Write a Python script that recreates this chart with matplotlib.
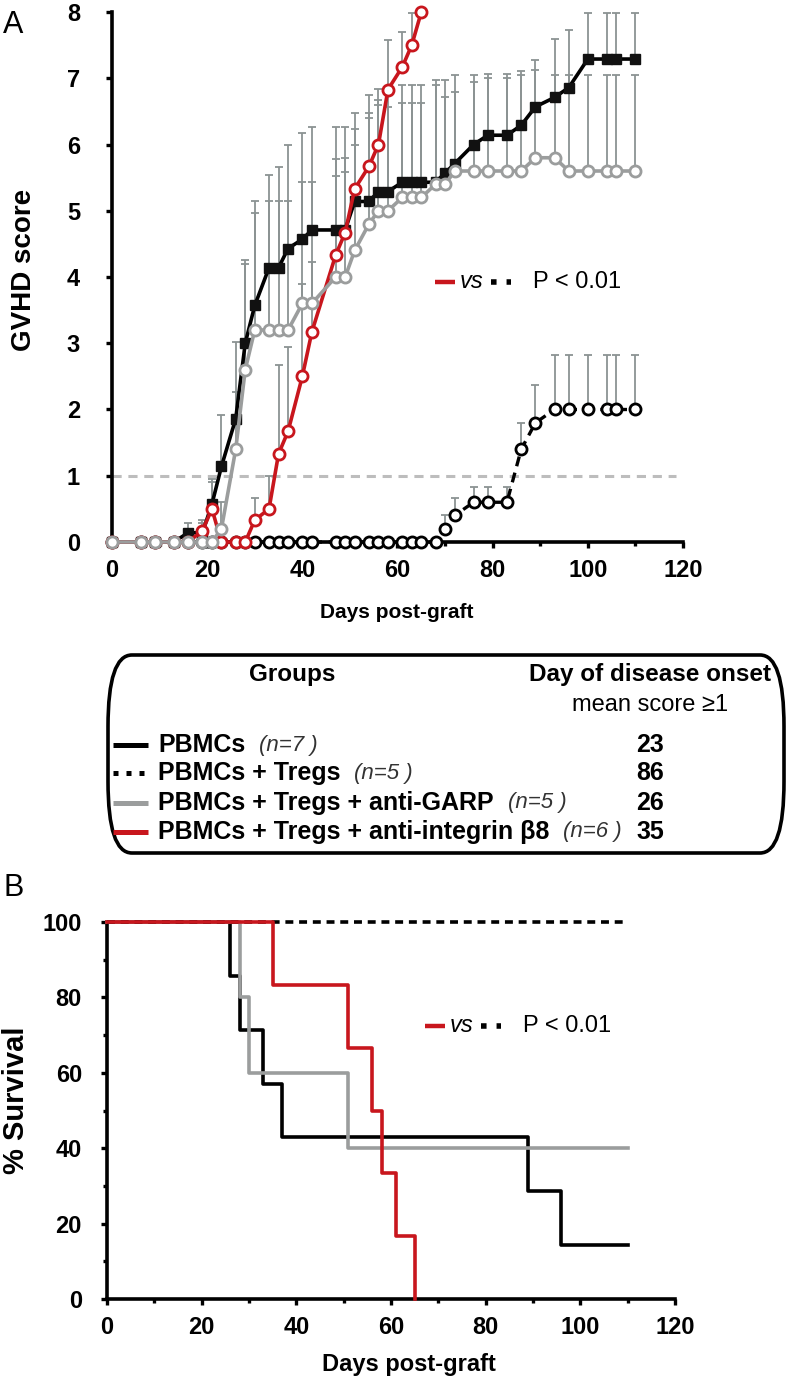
import numpy as np
import matplotlib
matplotlib.use("Agg")
import matplotlib.pyplot as plt
from matplotlib.lines import Line2D
from matplotlib.patches import FancyBboxPatch
from matplotlib.ticker import MultipleLocator

plt.rcParams['font.family'] = ['Liberation Sans', 'DejaVu Sans']

# ---- Panel A: GVHD score (mean, upper error) ----
days = [0, 6, 9, 13, 16, 19, 21, 23, 26, 28, 30, 33, 35, 37, 40, 42, 47, 49, 51, 54,
        56, 58, 61, 63, 65, 68, 70, 72, 76, 79, 83, 86, 89, 93, 96, 100, 104, 106, 110]

pbmc = [0, 0, 0, 0, 0.14, 0.14, 0.57, 1.14, 1.86, 3.0, 3.57, 4.14, 4.14, 4.43, 4.57, 4.71, 4.71, 4.71, 5.14, 5.14,
        5.29, 5.29, 5.43, 5.43, 5.43, 5.43, 5.57, 5.71, 6.0, 6.14, 6.14, 6.29, 6.57, 6.71, 6.86, 7.29, 7.29, 7.29, 7.29]
pbmc_err = [0, 0, 0, 0, 0.15, 0.15, 0.33, 0.77, 1.16, 1.26, 1.58, 1.40, 1.52, 1.56, 1.61, 1.56, 1.56, 1.56, 1.34, 1.61,
            1.55, 1.53, 1.47, 1.47, 1.47, 1.55, 1.41, 1.34, 1.05, 0.93, 0.93, 0.82, 0.71, 0.88, 0.87, 0.69, 0.69, 0.69, 0.69]

tregs = [0, 0, 0, 0, 0, 0, 0, 0, 0, 0, 0, 0, 0, 0, 0, 0, 0, 0, 0, 0,
         0, 0, 0, 0, 0, 0, 0.2, 0.4, 0.6, 0.6, 0.6, 1.4, 1.8, 2.0, 2.0, 2.0, 2.0, 2.0, 2.0]
tregs_err = [0, 0, 0, 0, 0, 0, 0, 0, 0, 0, 0, 0, 0, 0, 0, 0, 0, 0, 0, 0,
             0, 0, 0, 0, 0, 0, 0.2, 0.26, 0.23, 0.23, 0.23, 0.4, 0.57, 0.82, 0.82, 0.82, 0.82, 0.82, 0.82]

garp = [0, 0, 0, 0, 0, 0, 0, 0.2, 1.4, 2.6, 3.2, 3.2, 3.2, 3.2, 3.6, 3.6, 4.0, 4.0, 4.4, 4.8,
        5.0, 5.0, 5.2, 5.2, 5.2, 5.4, 5.4, 5.6, 5.6, 5.6, 5.6, 5.6, 5.8, 5.8, 5.6, 5.6, 5.6, 5.6, 5.6]
garp_err = [0, 0, 0, 0, 0, 0, 0, 0.4, 0.87, 1.6, 1.76, 1.95, 1.95, 1.95, 1.84, 1.84, 1.78, 1.79, 1.59, 1.67,
            1.6, 1.57, 1.42, 1.42, 1.42, 1.5, 1.32, 1.2, 1.35, 1.4, 1.4, 1.45, 1.32, 1.25, 1.45, 1.45, 1.45, 1.45, 1.45]

integ = [0, 0, 0, 0, 0, 0.17, 0.5, 0, 0, 0, 0.33, 0.5, 1.33, 1.67, 2.5, 3.17, 4.33, 4.67, 5.33, 5.67,
         6.0, 6.83, 7.17, 7.5, 8.0]
integ_err = [0, 0, 0, 0, 0, 0.16, 0.45, 0, 0, 0, 0.34, 0.5, 1.34, 1.28, 1.4, 1.06, 1.2, 0.92, 0.91, 0.73,
             0.67, 0.75, 0.53, 0.49, 0]

# ---- Panel B: survival (step times, % surviving) ----
surv_pbmc_t = [0, 26, 28, 33, 37, 89, 96, 110]
surv_pbmc = [100, 85.7, 71.4, 57.1, 42.9, 28.6, 14.3, 14.3]
surv_tregs_t = [0, 110]
surv_tregs = [100, 100]
surv_garp_t = [0, 28, 30, 51, 110]
surv_garp = [100, 80, 60, 40, 40]
surv_integ_t = [0, 35, 51, 56, 58, 61, 65]
surv_integ = [100, 83.3, 66.7, 50, 33.3, 16.7, 0]

groups = ['PBMCs', 'PBMCs + Tregs', 'PBMCs + Tregs + anti-GARP', 'PBMCs + Tregs + anti-integrin \u03b28']
group_n = ['(n=7 )', '(n=5 )', '(n=5 )', '(n=6 )']
onset = ['23', '86', '26', '35']

RED = '#c8161d'
GRAY = '#9b9d9d'
ERR = '#8b9393'

W, H = 796, 1377
fig = plt.figure(figsize=(W / 100, H / 100), dpi=100)


def fx(px):
    return px / W


def fy(py):
    return 1 - py / H


def style_axis(ax, size):
    for s in ['top', 'right']:
        ax.spines[s].set_visible(False)
    for s in ['left', 'bottom']:
        ax.spines[s].set_linewidth(2.6)
    ax.tick_params(which='major', direction='out', length=4, width=2.4, labelsize=size)
    ax.tick_params(which='minor', direction='out', length=3, width=2.4)
    for lab in ax.get_xticklabels() + ax.get_yticklabels():
        lab.set_fontweight('bold')


def upper_err(ax, x, y, e):
    x = np.asarray(x); y = np.asarray(y); e = np.asarray(e)
    m = e > 0
    ax.errorbar(x[m], y[m], yerr=[np.zeros(m.sum()), e[m]], fmt='none', ecolor=ERR,
                elinewidth=1.3, capsize=3, capthick=1.3, zorder=2, clip_on=False)


# ---------------- Panel A ----------------
axA = fig.add_axes([fx(112), fy(542), fx(683) - fx(112), fy(12) - fy(542)])
axA.set_xlim(0, 120)
axA.set_ylim(0, 8)

axA.axhline(1, xmin=0, xmax=118.6 / 120, color='#bdbdbd', lw=2.2, ls=(0, (3, 2.2)), zorder=1)

n_int = len(integ)
upper_err(axA, days, pbmc, pbmc_err)
upper_err(axA, days, tregs, tregs_err)
upper_err(axA, days, garp, garp_err)
upper_err(axA, days[:n_int], integ, integ_err)

axA.plot(days, tregs, color='black', lw=2.4, ls=(0, (3, 2)), marker='o', ms=8,
         mfc='white', mec='black', mew=2, zorder=3, clip_on=False)
axA.plot(days, pbmc, color='black', lw=2.6, marker='s', ms=7, mfc='#111111', mec='#111111',
         zorder=4, clip_on=False)
axA.plot(days[:n_int], integ, color=RED, lw=2.6, marker='o', ms=8, mfc='white', mec=RED,
         mew=2, zorder=5, clip_on=False)
axA.plot(days, garp, color=GRAY, lw=2.6, marker='o', ms=8, mfc='white', mec=GRAY,
         mew=2, zorder=6, clip_on=False)

axA.xaxis.set_major_locator(MultipleLocator(20))
axA.xaxis.set_minor_locator(MultipleLocator(10))
axA.yaxis.set_major_locator(MultipleLocator(1))
style_axis(axA, 17)
axA.tick_params(axis='y', pad=19)
axA.tick_params(axis='x', pad=8)

fig.text(fx(397), fy(612), 'Days post-graft', fontsize=15, fontweight='bold', ha='center', va='center')
fig.text(fx(24), fy(270), 'GVHD score', fontsize=20, fontweight='bold', rotation=90,
         ha='center', va='center')
fig.text(fx(3), fy(25), 'A', fontsize=22, ha='left', va='center')

# ---------------- Panel B ----------------
axB = fig.add_axes([fx(107), fy(1299), fx(675) - fx(107), fy(922) - fy(1299)])
axB.set_xlim(0, 120)
axB.set_ylim(0, 100)
axB.step(surv_pbmc_t, surv_pbmc, where='post', color='black', lw=2.6, zorder=3, clip_on=False)
axB.step(surv_garp_t, surv_garp, where='post', color=GRAY, lw=2.6, zorder=3, clip_on=False)
axB.step(surv_tregs_t, surv_tregs, where='post', color='black', lw=2.6, ls=(0, (2.2, 1.6)),
         zorder=4, clip_on=False)
axB.step(surv_integ_t, surv_integ, where='post', color=RED, lw=2.6, zorder=5, clip_on=False)
axB.xaxis.set_major_locator(MultipleLocator(20))
axB.xaxis.set_minor_locator(MultipleLocator(10))
axB.yaxis.set_major_locator(MultipleLocator(20))
axB.yaxis.set_minor_locator(MultipleLocator(10))
style_axis(axB, 17)
axB.tick_params(axis='y', pad=14)
axB.tick_params(axis='x', pad=8)

fig.text(fx(409), fy(1364), 'Days post-graft', fontsize=17, fontweight='bold', ha='center', va='center')
fig.text(fx(16), fy(1100), '% Survival', fontsize=21, fontweight='bold', rotation=90,
         ha='center', va='center')
fig.text(fx(4), fy(888), 'B', fontsize=22, ha='left', va='center')


# ---------------- "vs" annotations ----------------
def vs_note(x0, yc):
    fig.add_artist(Line2D([fx(x0), fx(x0 + 20)], [fy(yc), fy(yc)], color=RED, lw=3.2,
                          solid_capstyle='butt'))
    fig.text(fx(x0 + 25), fy(yc), 'vs', fontsize=17, style='italic', ha='left', va='center')
    fig.add_artist(Line2D([fx(x0 + 56), fx(x0 + 76)], [fy(yc), fy(yc)], color='black', lw=4,
                          ls=(0, (1, 1.8)), dash_capstyle='butt'))
    fig.text(fx(x0 + 98), fy(yc), 'P < 0.01', fontsize=17, ha='left', va='center')


vs_note(435, 282)
vs_note(425, 1026)

# ---------------- Legend box ----------------
box = FancyBboxPatch((fx(108), fy(853)), fx(784) - fx(108), fy(655) - fy(853),
                     boxstyle='round,pad=0,rounding_size=0.03', transform=fig.transFigure,
                     fc='white', ec='black', lw=2.6, mutation_aspect=H / W)
fig.add_artist(box)

fig.text(fx(292), fy(675), 'Groups', fontsize=17.5, fontweight='bold', ha='center', va='center')
fig.text(fx(650), fy(675), 'Day of disease onset', fontsize=17.5, fontweight='bold',
         ha='center', va='center')
fig.text(fx(650), fy(705), 'mean score \u22651', fontsize=17, ha='center', va='center')

row_y = [745, 773, 803, 832]
samples = [dict(color='black', ls='-'), dict(color='black', ls=(0, (1, 1.6))),
           dict(color=GRAY, ls='-'), dict(color=RED, ls='-')]
fig.canvas.draw()
rend = fig.canvas.get_renderer()
for i in range(4):
    yy = fy(row_y[i])
    fig.add_artist(Line2D([fx(113), fx(148)], [yy, yy], lw=3.6, solid_capstyle='butt',
                          dash_capstyle='butt', **samples[i]))
    t = fig.text(fx(158), yy, groups[i], fontsize=18, fontweight='bold', ha='left', va='center')
    bb = t.get_window_extent(renderer=rend)
    fig.text(bb.x1 / W + fx(14), yy, group_n[i], fontsize=16, style='italic', color='#333333',
             ha='left', va='center')
    fig.text(fx(650), yy, onset[i], fontsize=18, fontweight='bold', ha='center', va='center')

fig.savefig('out.png', dpi=100)
